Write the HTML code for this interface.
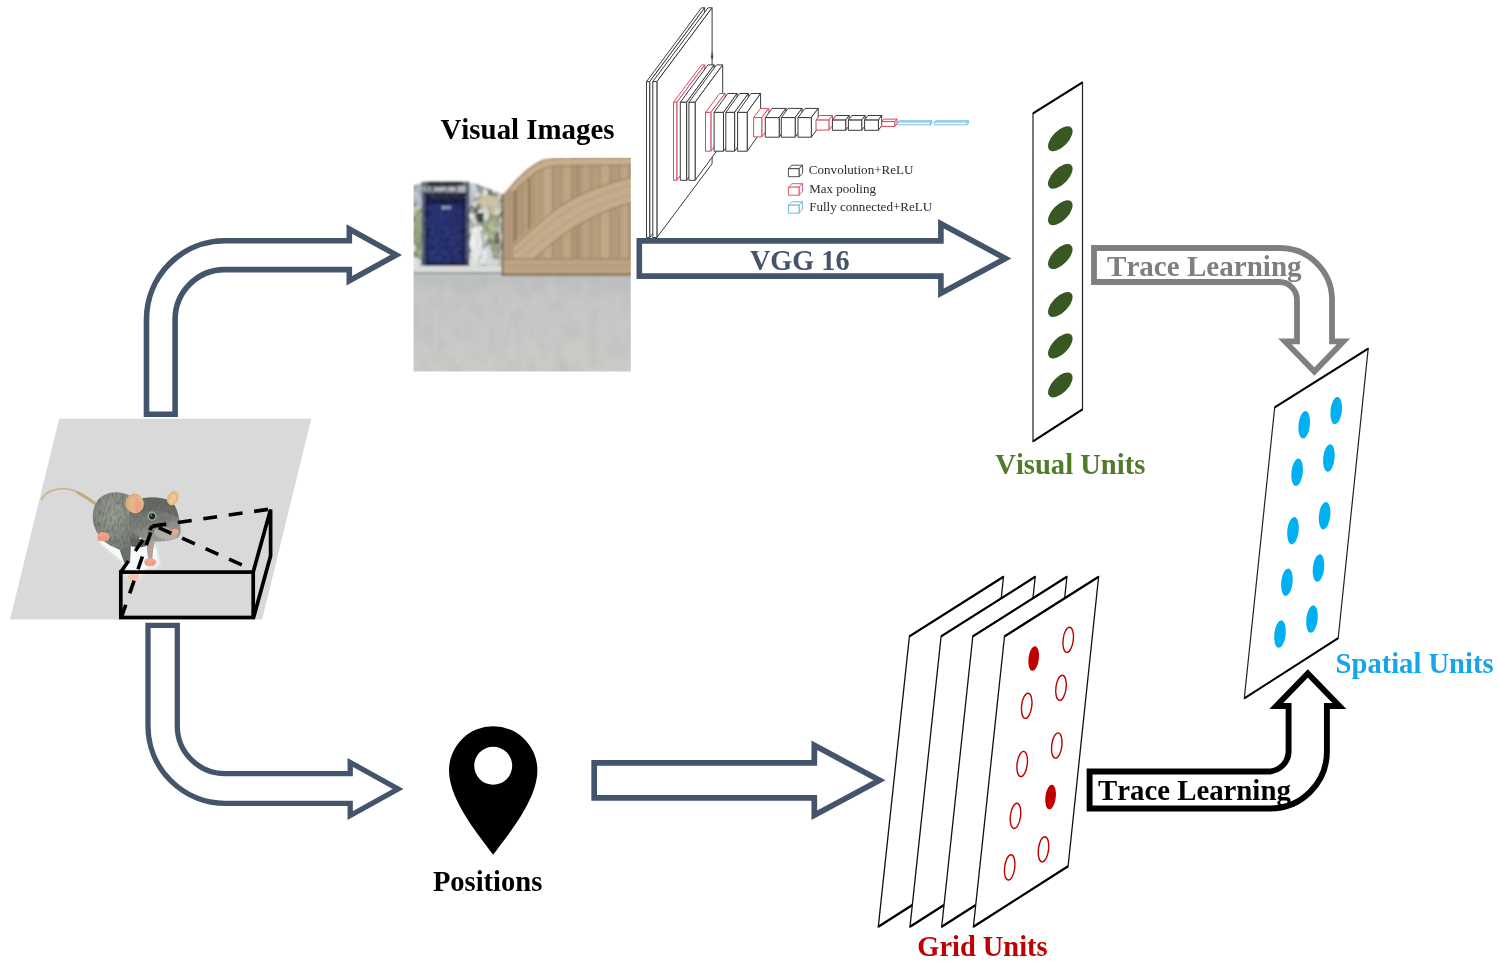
<!DOCTYPE html>
<html lang="en">
<head>
<meta charset="utf-8">
<title>Model overview</title>
<style>
html,body{margin:0;padding:0;background:#fff;}
body{width:1499px;height:962px;overflow:hidden;font-family:"Liberation Serif",serif;}
svg{display:block;}
</style>
</head>
<body>
<svg width="1499" height="962" viewBox="0 0 1499 962">
<rect width="1499" height="962" fill="#fff"/>
<path d="M146.5 414.3 L146.5 319.5 A78.3 78.8 0 0 1 224.8 240.7 L349.3 240.7 L349.3 229 L396.2 254.9 L349.3 280.8 L349.3 269.6 L224.8 269.6 A49.7 49.9 0 0 0 175.1 319.5 L175.1 414.3 Z" fill="#fff" stroke="#44546A" stroke-width="5.6" stroke-miterlimit="10"/>
<path d="M148 625.3 L177.3 625.3 L177.3 726 A47.8 47.6 0 0 0 225.1 773.6 L350.2 773.6 L350.2 762.5 L398 789 L350.2 815.5 L350.2 803.4 L225.4 803.4 A77.4 77.4 0 0 1 148 726 Z" fill="#fff" stroke="#44546A" stroke-width="5.3" stroke-miterlimit="10"/>
<path d="M594.2 762.8 L814.3 762.8 L814.3 745.3 L879.5 780.3 L814.3 815.3 L814.3 797.9 L594.2 797.9 Z" fill="#fff" stroke="#44546A" stroke-width="5.7" stroke-miterlimit="10"/>
<defs><filter id="soft" x="-5%" y="-5%" width="110%" height="110%"><feGaussianBlur stdDeviation="0.42"/></filter></defs>
<g fill="#fff" stroke-linejoin="round" filter="url(#soft)">
<g stroke="#3a3a3a" stroke-width="1.0"><polygon points="646.5,81.6 701.5,7.799999999999997 704.7,7.799999999999997 649.7,81.6"/><polygon points="649.7,81.6 704.7,7.799999999999997 704.7,163.7 649.7,237.5"/><polygon points="646.5,81.6 649.7,81.6 649.7,237.5 646.5,237.5"/></g>
<g stroke="#3a3a3a" stroke-width="1.0"><polygon points="652.8,81.6 708.0,7.799999999999997 712.1,7.799999999999997 656.9,81.6"/><polygon points="656.9,81.6 712.1,7.799999999999997 712.1,163.7 656.9,237.5"/><polygon points="652.8,81.6 656.9,81.6 656.9,237.5 652.8,237.5"/></g>
<g stroke="#D8485F" stroke-width="1.0"><polygon points="673.5,102.3 701.5,64.9 704.8,64.9 676.8,102.3"/><polygon points="676.8,102.3 704.8,64.9 704.8,142.9 676.8,180.3"/><polygon points="673.5,102.3 676.8,102.3 676.8,180.3 673.5,180.3"/></g>
<g stroke="#3a3a3a" stroke-width="1.0"><polygon points="680.3,102.3 707.9,64.9 714.2,64.9 686.6,102.3"/><polygon points="686.6,102.3 714.2,64.9 714.2,142.9 686.6,180.3"/><polygon points="680.3,102.3 686.6,102.3 686.6,180.3 680.3,180.3"/></g>
<g stroke="#3a3a3a" stroke-width="1.0"><polygon points="688.9,102.3 716.5,64.9 722.7,64.9 695.1,102.3"/><polygon points="695.1,102.3 722.7,64.9 722.7,142.9 695.1,180.3"/><polygon points="688.9,102.3 695.1,102.3 695.1,180.3 688.9,180.3"/></g>
<g stroke="#D8485F" stroke-width="1.0"><polygon points="705.5,112.4 719.7,93.5 725.1,93.5 710.9,112.4"/><polygon points="710.9,112.4 725.1,93.5 725.1,132.29999999999998 710.9,151.2"/><polygon points="705.5,112.4 710.9,112.4 710.9,151.2 705.5,151.2"/></g>
<g stroke="#3a3a3a" stroke-width="1.0"><polygon points="714.1,112.4 727.7,93.5 737.1,93.5 723.5,112.4"/><polygon points="723.5,112.4 737.1,93.5 737.1,132.29999999999998 723.5,151.2"/><polygon points="714.1,112.4 723.5,112.4 723.5,151.2 714.1,151.2"/></g>
<g stroke="#3a3a3a" stroke-width="1.0"><polygon points="725.8,112.4 739.5999999999999,93.5 748.4,93.5 734.6,112.4"/><polygon points="734.6,112.4 748.4,93.5 748.4,132.29999999999998 734.6,151.2"/><polygon points="725.8,112.4 734.6,112.4 734.6,151.2 725.8,151.2"/></g>
<g stroke="#3a3a3a" stroke-width="1.0"><polygon points="737.6,112.4 751.0,93.5 760.6,93.5 747.2,112.4"/><polygon points="747.2,112.4 760.6,93.5 760.6,132.29999999999998 747.2,151.2"/><polygon points="737.6,112.4 747.2,112.4 747.2,151.2 737.6,151.2"/></g>
<g stroke="#D8485F" stroke-width="1.0"><polygon points="753.6,117.6 760.6,108.39999999999999 768.8,108.39999999999999 761.8,117.6"/><polygon points="761.8,117.6 768.8,108.39999999999999 768.8,127.7 761.8,136.9"/><polygon points="753.6,117.6 761.8,117.6 761.8,136.9 753.6,136.9"/></g>
<g stroke="#3a3a3a" stroke-width="1.0"><polygon points="765.3,117.6 772.0999999999999,108.39999999999999 786.0,108.39999999999999 779.2,117.6"/><polygon points="779.2,117.6 786.0,108.39999999999999 786.0,127.99999999999999 779.2,137.2"/><polygon points="765.3,117.6 779.2,117.6 779.2,137.2 765.3,137.2"/></g>
<g stroke="#3a3a3a" stroke-width="1.0"><polygon points="781.3,117.6 788.0999999999999,108.39999999999999 802.0,108.39999999999999 795.2,117.6"/><polygon points="795.2,117.6 802.0,108.39999999999999 802.0,127.99999999999999 795.2,137.2"/><polygon points="781.3,117.6 795.2,117.6 795.2,137.2 781.3,137.2"/></g>
<g stroke="#3a3a3a" stroke-width="1.0"><polygon points="798,117.6 804.9,108.39999999999999 818.1999999999999,108.39999999999999 811.3,117.6"/><polygon points="811.3,117.6 818.1999999999999,108.39999999999999 818.1999999999999,127.99999999999999 811.3,137.2"/><polygon points="798,117.6 811.3,117.6 811.3,137.2 798,137.2"/></g>
<g stroke="#D8485F" stroke-width="1.0"><polygon points="816,120.1 819.6,115.5 832.5,115.5 828.9,120.1"/><polygon points="828.9,120.1 832.5,115.5 832.5,125.5 828.9,130.1"/><polygon points="816,120.1 828.9,120.1 828.9,130.1 816,130.1"/></g>
<g stroke="#3a3a3a" stroke-width="1.0"><polygon points="832.4,120.1 835.8,115.5 849.1,115.5 845.7,120.1"/><polygon points="845.7,120.1 849.1,115.5 849.1,125.70000000000002 845.7,130.3"/><polygon points="832.4,120.1 845.7,120.1 845.7,130.3 832.4,130.3"/></g>
<g stroke="#3a3a3a" stroke-width="1.0"><polygon points="848.4,120.1 851.8,115.5 865.1,115.5 861.7,120.1"/><polygon points="861.7,120.1 865.1,115.5 865.1,125.70000000000002 861.7,130.3"/><polygon points="848.4,120.1 861.7,120.1 861.7,130.3 848.4,130.3"/></g>
<g stroke="#3a3a3a" stroke-width="1.0"><polygon points="864.6,120.1 867.9,115.5 881.6999999999999,115.5 878.4,120.1"/><polygon points="878.4,120.1 881.6999999999999,115.5 881.6999999999999,125.70000000000002 878.4,130.3"/><polygon points="864.6,120.1 878.4,120.1 878.4,130.3 864.6,130.3"/></g>
<g stroke="#D8485F" stroke-width="1.0"><polygon points="881.8,121.6 884.0,119.1 897.0,119.1 894.8,121.6"/><polygon points="894.8,121.6 897.0,119.1 897.0,123.9 894.8,126.4"/><polygon points="881.8,121.6 894.8,121.6 894.8,126.4 881.8,126.4"/></g>
<g stroke="#62B4D2" stroke-width="0.8"><polygon points="897.8,122.1 899.4,120.69999999999999 932.0,120.69999999999999 930.4,122.1"/><polygon points="930.4,122.1 932.0,120.69999999999999 932.0,123.39999999999999 930.4,124.8"/><polygon points="897.8,122.1 930.4,122.1 930.4,124.8 897.8,124.8"/></g>
<g stroke="#62B4D2" stroke-width="0.8"><polygon points="934.3,122.1 935.9,120.69999999999999 968.4,120.69999999999999 966.8,122.1"/><polygon points="966.8,122.1 968.4,120.69999999999999 968.4,123.39999999999999 966.8,124.8"/><polygon points="934.3,122.1 966.8,122.1 966.8,124.8 934.3,124.8"/></g>
<path d="M712.1 52 L712.1 58.5 M711 55.5 L712.1 58.5 L713.2 55.5" stroke="#3a3a3a" stroke-width="0.9" fill="none"/>
<g stroke="#3a3a3a" stroke-width="0.9"><polygon points="788.4,168.7 792.0,165.2 802.6,165.2 799,168.7"/><polygon points="799,168.7 802.6,165.2 802.6,173.2 799,176.7"/><polygon points="788.4,168.7 799,168.7 799,176.7 788.4,176.7"/></g>
<g stroke="#D8485F" stroke-width="0.9"><polygon points="788.4,187.2 792.0,183.7 802.6,183.7 799,187.2"/><polygon points="799,187.2 802.6,183.7 802.6,191.7 799,195.2"/><polygon points="788.4,187.2 799,187.2 799,195.2 788.4,195.2"/></g>
<g stroke="#62B4D2" stroke-width="0.9"><polygon points="788.4,205.2 792.0,201.7 802.6,201.7 799,205.2"/><polygon points="799,205.2 802.6,201.7 802.6,209.7 799,213.2"/><polygon points="788.4,205.2 799,205.2 799,213.2 788.4,213.2"/></g>
</g>
<g filter="url(#soft)"><g font-family="'Liberation Serif', serif" font-size="13.1" fill="#2b2b2b"><text x="808.8" y="174.3" textLength="104.7" lengthAdjust="spacingAndGlyphs">Convolution+ReLU</text><text x="809.2" y="193.4" textLength="66.8" lengthAdjust="spacingAndGlyphs">Max pooling</text><text x="809.2" y="211.3" textLength="123" lengthAdjust="spacingAndGlyphs">Fully connected+ReLU</text></g></g>
<defs>
<clipPath id="imgclip"><rect x="413.6" y="157.8" width="217.19999999999993" height="213.8"/></clipPath>
<filter id="imgblur" x="-2%" y="-2%" width="104%" height="104%"><feGaussianBlur stdDeviation="0.8"/></filter>
<filter id="stone" color-interpolation-filters="sRGB" x="0" y="0" width="100%" height="100%">
<feTurbulence type="fractalNoise" baseFrequency="0.17 0.15" numOctaves="3" seed="11" result="n"/>
<feColorMatrix in="n" type="matrix" values="0.75 0.75 0.3 0 -0.22  0.75 0.78 0.3 0 -0.22  0.7 0.72 0.32 0 -0.2  0 0 0 0 1" result="c"/>
<feComposite in="c" in2="SourceGraphic" operator="in"/>
</filter>
<filter id="mottle" color-interpolation-filters="sRGB" x="0" y="0" width="100%" height="100%">
<feTurbulence type="fractalNoise" baseFrequency="0.2 0.18" numOctaves="2" seed="5" result="n"/>
<feColorMatrix in="n" type="matrix" values="0 0 0 0 0  0 0 0 0 0  0 0 0 0 0.03  2.2 2.2 0 0 -1.9" result="c"/>
<feComposite in="c" in2="SourceGraphic" operator="in"/>
</filter>
<filter id="grain" color-interpolation-filters="sRGB" x="0" y="0" width="100%" height="100%">
<feTurbulence type="fractalNoise" baseFrequency="0.09 0.05" numOctaves="2" seed="3" result="n"/>
<feColorMatrix in="n" type="matrix" values="0 0 0 0 0.5  0 0 0 0 0.5  0 0 0 0 0.5  0.5 0.5 0 0 -0.42" result="c"/>
<feComposite in="c" in2="SourceGraphic" operator="in"/>
</filter>
<linearGradient id="floorg" x1="0" y1="0" x2="0" y2="1"><stop offset="0" stop-color="#BDBFC0"/><stop offset="0.25" stop-color="#C6C7C6"/><stop offset="1" stop-color="#CBCBC8"/></linearGradient>
<linearGradient id="doorg" x1="0" y1="0" x2="1" y2="0"><stop offset="0" stop-color="#20264F"/><stop offset="0.14" stop-color="#2C3778"/><stop offset="0.85" stop-color="#2B3573"/><stop offset="1" stop-color="#1D2246"/></linearGradient>
<linearGradient id="gateg" x1="0" y1="0" x2="1" y2="0"><stop offset="0" stop-color="#AC9373"/><stop offset="0.1" stop-color="#B69D7D"/><stop offset="1" stop-color="#BBA383"/></linearGradient>
</defs>
<g clip-path="url(#imgclip)"><g filter="url(#imgblur)">
<rect x="410.6" y="154.8" width="223.19999999999993" height="60" fill="#FFFFFF"/>
<rect x="410.6" y="272" width="223.19999999999993" height="103.60000000000002" fill="url(#floorg)"/>
<rect x="410.6" y="276" width="223.19999999999993" height="99.60000000000002" fill="#fff" filter="url(#grain)" opacity="0.35"/>
<path d="M410.6 186 L428 181.6 L462.6 181.4 L478 184.5 L502.5 194 L504 276 L410.6 276 Z" fill="#A3A596"/>
<path d="M410.6 186 L428 181.6 L462.6 181.4 L478 184.5 L502.5 194 L504 276 L410.6 276 Z" fill="#fff" filter="url(#stone)" opacity="0.92"/>
<ellipse cx="418" cy="197" rx="5" ry="10" fill="#B9C3D8" opacity="0.75"/>
<ellipse cx="418" cy="230" rx="4.6" ry="22" fill="#8AA06C" opacity="0.7"/>
<ellipse cx="419" cy="252" rx="4" ry="9" fill="#758C5A" opacity="0.6"/>
<ellipse cx="417" cy="262" rx="4" ry="4" fill="#E4E6E2" opacity="0.8"/>
<ellipse cx="472" cy="192" rx="6" ry="8" fill="#CBD4E2" opacity="0.75"/>
<ellipse cx="489" cy="201" rx="11" ry="6.5" fill="#CFC29F" opacity="0.8"/>
<ellipse cx="495" cy="211" rx="6" ry="5" fill="#D8CDAC" opacity="0.7"/>
<ellipse cx="491" cy="226" rx="8" ry="13" fill="#9DAA78" opacity="0.6"/>
<ellipse cx="495" cy="250" rx="5" ry="11" fill="#84976A" opacity="0.55"/>
<ellipse cx="497" cy="238" rx="3" ry="6" fill="#6B5348" opacity="0.75"/>
<ellipse cx="485" cy="215" rx="4" ry="5" fill="#E6E8E0" opacity="0.7"/>
<ellipse cx="476" cy="243" rx="6" ry="17" fill="#EEF2F5" opacity="0.85"/>
<ellipse cx="486" cy="255" rx="7" ry="9" fill="#E4EBF0" opacity="0.7"/>
<ellipse cx="473" cy="262" rx="12" ry="4" fill="#E8EAEA" opacity="0.85"/>
<ellipse cx="492" cy="262" rx="8" ry="4" fill="#D8DAD6" opacity="0.8"/>
<rect x="421.5" y="181.6" width="48" height="17.5" fill="#6C707C"/>
<rect x="428" y="181.6" width="35" height="5" fill="#3B3E48"/>
<rect x="434" y="187" width="22" height="4.5" fill="#B4B8C2"/>
<rect x="457" y="186" width="9" height="6" fill="#C4C9D2" opacity=".8"/>
<rect x="423" y="186.5" width="8" height="5" fill="#B9BEC9" opacity=".7"/>
<rect x="424" y="193.2" width="43" height="5.4" fill="#2B3047"/>
<rect x="421.8" y="196" width="4" height="70" fill="#59617F"/>
<rect x="465" y="196" width="4.2" height="70" fill="#535B78"/>
<rect x="425.2" y="198.4" width="40.2" height="67.4" fill="url(#doorg)"/>
<rect x="425.2" y="198.4" width="40.2" height="6" fill="#1A1F40" opacity=".85"/>
<rect x="441.5" y="205.8" width="9.5" height="3.6" fill="#8F98B4"/>
<rect x="425.2" y="262" width="40.2" height="4" fill="#232A55"/>
<rect x="421.5" y="181.6" width="48" height="85" fill="#000" filter="url(#mottle)" opacity=".22"/>
<rect x="477" y="213" width="6.5" height="9" fill="#3C4646"/>
<path d="M470 208 q4 -3 6 2 l0 8" stroke="#3a4040" stroke-width="1.2" fill="none"/>
<rect x="410.6" y="265.8" width="94" height="7.4" fill="#DADDDA"/>
<rect x="410.6" y="272.4" width="94" height="2" fill="#878C8C"/>
<rect x="410.6" y="274.2" width="94" height="2" fill="#C2C6C8"/>
<path d="M503 276 L503 194.5 C514 182 527 166 543 159.6 C550 157 560 156.5 640 156.5 L640 276 Z" fill="url(#gateg)"/>
<clipPath id="gclip"><path d="M503 276 L503 194.5 C514 182 527 166 543 159.6 C550 157 560 156.5 640 156.5 L640 276 Z"/></clipPath><g clip-path="url(#gclip)">
<rect x="513.5" y="150" width="9.6" height="110" fill="#B09777"/>
<rect x="513.5" y="150" width="1.1" height="110" fill="#94795A" opacity=".55"/>
<rect x="523.1" y="150" width="9.6" height="110" fill="#BAA181"/>
<rect x="523.1" y="150" width="1.1" height="110" fill="#94795A" opacity=".55"/>
<rect x="532.7" y="150" width="9.6" height="110" fill="#B59C7C"/>
<rect x="532.7" y="150" width="1.1" height="110" fill="#94795A" opacity=".55"/>
<rect x="542.3" y="150" width="9.6" height="110" fill="#C0A888"/>
<rect x="542.3" y="150" width="1.1" height="110" fill="#94795A" opacity=".55"/>
<rect x="551.9" y="150" width="9.6" height="110" fill="#B39A7A"/>
<rect x="551.9" y="150" width="1.1" height="110" fill="#94795A" opacity=".55"/>
<rect x="561.5" y="150" width="9.6" height="110" fill="#BCA484"/>
<rect x="561.5" y="150" width="1.1" height="110" fill="#94795A" opacity=".55"/>
<rect x="571.1" y="150" width="9.6" height="110" fill="#B09777"/>
<rect x="571.1" y="150" width="1.1" height="110" fill="#94795A" opacity=".55"/>
<rect x="580.7" y="150" width="9.6" height="110" fill="#BAA181"/>
<rect x="580.7" y="150" width="1.1" height="110" fill="#94795A" opacity=".55"/>
<rect x="590.3" y="150" width="9.6" height="110" fill="#B59C7C"/>
<rect x="590.3" y="150" width="1.1" height="110" fill="#94795A" opacity=".55"/>
<rect x="599.9" y="150" width="9.6" height="110" fill="#C0A888"/>
<rect x="599.9" y="150" width="1.1" height="110" fill="#94795A" opacity=".55"/>
<rect x="609.5" y="150" width="9.6" height="110" fill="#B39A7A"/>
<rect x="609.5" y="150" width="1.1" height="110" fill="#94795A" opacity=".55"/>
<rect x="619.1" y="150" width="9.6" height="110" fill="#BCA484"/>
<rect x="619.1" y="150" width="1.1" height="110" fill="#94795A" opacity=".55"/>
<rect x="628.7" y="150" width="9.6" height="110" fill="#B09777"/>
<rect x="628.7" y="150" width="1.1" height="110" fill="#94795A" opacity=".55"/>
<rect x="638.3" y="150" width="9.6" height="110" fill="#BAA181"/>
<rect x="638.3" y="150" width="1.1" height="110" fill="#94795A" opacity=".55"/>
<rect x="513" y="190" width="3.6" height="66" fill="#8F7657" opacity=".8"/>
<rect x="527.5" y="178" width="3.4" height="56" fill="#92795A" opacity=".8"/>
<rect x="576" y="160" width="2.8" height="98" fill="#A38A69" opacity=".7"/>
<path d="M503 199 C515 186 528 170.5 544 164.2 C551 161.6 562 161.2 640 161.2" stroke="#C6AE8E" stroke-width="5.5" fill="none"/>
<path d="M503 203.4 C515 190.4 529 174.4 545 168.2 C552 165.8 562 165.4 640 165.4" stroke="#9F8564" stroke-width="1.3" fill="none" opacity=".85"/>
<path d="M503 195.4 C514 183 527 167 543 160.6" stroke="#8F7758" stroke-width="1.2" fill="none" opacity=".8"/>
<path d="M514 259 C530 246 545 230 566 217 C588 203 610 195 640 187" stroke="#C4AC8C" stroke-width="25" fill="none"/>
<path d="M506 252 C524 238 540 220 560 206.5 C584 191 608 183 640 175" stroke="#9A8060" stroke-width="1.4" fill="none" opacity=".85"/>
<path d="M524 268 C540 254 554 240 574 227.5 C596 214 616 207 640 200" stroke="#9A8060" stroke-width="1.4" fill="none" opacity=".85"/>
<path d="M511 256 C528 243 543 226 564 213 C586 199 610 191 640 183" stroke="#B09777" stroke-width="1.2" fill="none" opacity=".8"/>
<path d="M517 262 C533 249 548 234 569 221 C591 207 612 199.5 640 192" stroke="#B39A7A" stroke-width="1.2" fill="none" opacity=".8"/>
<rect x="503" y="190" width="10.5" height="86" fill="#B0977A"/>
<rect x="503" y="258.5" width="140" height="17" fill="#BDA383"/>
<rect x="503" y="258.2" width="140" height="1.4" fill="#987E5E" opacity=".8"/>
<rect x="503" y="265" width="140" height="1.1" fill="#A98F6F" opacity=".7"/>
<rect x="503" y="273.4" width="140" height="2.8" fill="#8C7455"/>
</g>
<rect x="501.6" y="194" width="2" height="82" fill="#6E6250" opacity=".8"/>
</g></g>
<path d="M639.3 240.9 L940.9 240.9 L940.9 223.7 L1005.5 258.5 L940.9 293.3 L940.9 276.1 L639.3 276.1 Z" fill="#fff" stroke="#44546A" stroke-width="5.6" stroke-miterlimit="10"/>
<defs>
<filter id="mblur" x="-5%" y="-5%" width="110%" height="110%"><feGaussianBlur stdDeviation="0.75"/></filter>
<filter id="mblur2" x="-10%" y="-10%" width="120%" height="120%"><feGaussianBlur stdDeviation="1.4"/></filter>
<filter id="fur" color-interpolation-filters="sRGB" x="0" y="0" width="100%" height="100%">
<feTurbulence type="fractalNoise" baseFrequency="0.5 0.18" numOctaves="2" seed="2" result="n"/>
<feColorMatrix in="n" type="matrix" values="0 0 0 0 0.2  0 0 0 0 0.2  0 0 0 0 0.18  1.6 1.6 0 0 -1.35" result="c"/>
<feComposite in="c" in2="SourceGraphic" operator="in"/>
</filter>
<radialGradient id="bodyg" cx="0.42" cy="0.3" r="0.75"><stop offset="0" stop-color="#9CA198"/><stop offset="0.55" stop-color="#81867E"/><stop offset="1" stop-color="#646962"/></radialGradient>
<linearGradient id="headg" x1="0.3" y1="0" x2="0.6" y2="1"><stop offset="0" stop-color="#6B6F69"/><stop offset="0.55" stop-color="#7C8079"/><stop offset="1" stop-color="#A3A49B"/></linearGradient>
<radialGradient id="earg" cx="0.6" cy="0.6" r="0.65"><stop offset="0" stop-color="#EDA98A"/><stop offset="0.55" stop-color="#E5B987"/><stop offset="1" stop-color="#D3AA78"/></radialGradient>
</defs>
<polygon points="59.2,418.8 311.2,418.8 262.2,619.4 10,619.4" fill="#D9D9D9"/>
<g filter="url(#mblur)">
<path d="M97 540 L108 541 L131 541 L156 545 L160 563 L156 568 L146 569 L138 580 L128 578 L121 561 L108 550 Z" fill="#EDF4F4" filter="url(#mblur2)"/>
<path d="M99.5 541.5 L110 543 L131 545 L150 545 L156 549 L157 565 L147 567 L139 574 L131 575 L123 561 L110 551 Z" fill="#F5FAFA"/>
<path d="M41.6 499.6 C45 492 55 488.3 64 488.6 C76 489 86 497 95 503.5" stroke="#CDB38E" stroke-width="1.9" fill="none" stroke-linecap="round"/>
<path d="M78 492.6 C85 496 90 500 97 505" stroke="#C4A883" stroke-width="2.9" fill="none" stroke-linecap="round"/>
<path d="M96 503 C99 496.5 107 492.4 116 492.3 C125 492.3 132 496 137 502 C143 512 144 528 138 541 C135 546 132 547 130.7 545 L130 562.5 L124.3 562.5 C122 557 121 553 119.5 549.5 C113 547 107 544 103 540.5 C96 533 92.4 524 92.8 516 C93 511 94 507 96 503 Z" fill="url(#bodyg)"/>
<path d="M96 503 C99 496.5 107 492.4 116 492.3 C125 492.3 132 496 137 502 C143 512 144 528 138 541 C135 546 132 547 130.7 545 L130 562.5 L124.3 562.5 C122 557 121 553 119.5 549.5 C113 547 107 544 103 540.5 C96 533 92.4 524 92.8 516 C93 511 94 507 96 503 Z" fill="#000" filter="url(#fur)" opacity=".35"/>
<path d="M121.5 549 C122.5 554 123.5 559 124.6 563 L129.8 563 L130.6 546 Z" fill="#6C7069" opacity=".85"/>
<path d="M97.2 537 C97.6 532.4 102 531.2 106 532.6 C109.6 533.6 110.6 537 108.4 539.6 C106 542 103 541.4 101.6 540.6 C99.6 542.4 96.6 541 97.2 537 Z" fill="#EFA28B"/>
<path d="M99 540.5 L100.4 536 M102.2 541 L103.4 536.4 M105.6 540.4 L106 536.4" stroke="#D98470" stroke-width=".7" fill="none"/>
<path d="M130 538 L147 540 L146.5 546 C141 548 135 547.5 130.6 546 Z" fill="#5F635D"/>
<path d="M146.4 540 C146.6 548 147.6 555 148.6 560 L152.4 560 C152.6 553 153.6 546 155 540.4 Z" fill="#B3A096"/>
<path d="M130.5 507 C132 500.5 140 497.6 150 497.4 C160 497.2 168 498.4 173 503 C177.5 508 180 520 180.6 529 C181 534 179.5 537.4 176 538.6 C170 541.2 162 541.8 155 541.4 C147 541 139 538.6 134.5 533 C130 527 129 515 130.5 507 Z" fill="url(#headg)"/>
<path d="M136 500 C144 496.6 162 496.4 172 502 C176 507 177.5 513 178 518 C168 510 150 508 134 514 Z" fill="#5F635E" opacity=".55"/>
<path d="M130.5 507 C132 500.5 140 497.6 150 497.4 C160 497.2 168 498.4 173 503 C177.5 508 180 520 180.6 529 C181 534 179.5 537.4 176 538.6 C170 541.2 162 541.8 155 541.4 C147 541 139 538.6 134.5 533 C130 527 129 515 130.5 507 Z" fill="#000" filter="url(#fur)" opacity=".22"/>
<ellipse cx="166" cy="533.5" rx="12" ry="6" fill="#B4B4AA" opacity=".8" transform="rotate(8 166 533.5)"/>
<ellipse cx="173.5" cy="526.5" rx="5.5" ry="5" fill="#8F9189" opacity=".75"/>
<path d="M144.2 561 C146 557.6 153 557.4 156.2 560.4 C157.2 564 154 567 150.6 566 C147.4 567.6 143.6 565 144.2 561 Z" fill="#F1A892"/>
<path d="M146.4 565.4 L147.6 561 M150 566.2 L150.4 561.4 M153.4 565.2 L152.8 561" stroke="#DA8B77" stroke-width=".7" fill="none"/>
<path d="M128 576 C129.6 572.4 136 572 139 574.6 C140.6 578.6 137 582 133.4 581 C130 581.8 127.4 579.4 128 576 Z" fill="#F4C3B2"/>
<ellipse cx="134.6" cy="503.4" rx="9.2" ry="9.9" transform="rotate(-12 134.6 503.4)" fill="url(#earg)"/>
<path d="M136 498 C140 499 142 503 141 507.5 C140 511 137.6 513 136 512.6 C134.6 508 134.6 502 136 498 Z" fill="#EB9F84" opacity=".8"/>
<ellipse cx="172.9" cy="498.1" rx="5.6" ry="7.5" transform="rotate(24 172.9 498.1)" fill="#E2BB88"/>
<ellipse cx="172.6" cy="499" rx="2.7" ry="5" transform="rotate(24 172.6 499)" fill="#EBC896"/>
<circle cx="152" cy="516.2" r="4.6" fill="#9EA69F"/>
<circle cx="152.1" cy="516.3" r="3.1" fill="#1F2D2C"/>
<circle cx="151.2" cy="515.3" r="0.8" fill="#9fb3b3"/>
<ellipse cx="174.8" cy="532" rx="3.6" ry="3.2" fill="#EBA595"/>
</g>
<g stroke="#000" stroke-width="3.7" fill="none" stroke-linejoin="miter" stroke-linecap="butt">
<rect x="120.8" y="572.1" width="132.4" height="45.4"/>
<path d="M253.2 572.1 L270.6 509.6 L270.6 555.8 L253.6 617.5"/>
</g>
<g stroke="#000" stroke-width="3.6" fill="none" stroke-dasharray="14 11.7">
<path d="M152.4 526.1 L270.6 509"/>
<path d="M241.8 564.8 L152.4 524.8"/>
<path d="M120.8 572.1 L152.4 526.1" stroke-dasharray="13.5 12"/>
<path d="M121.4 617.5 L152.9 526" stroke-dasharray="13.5 12"/>
</g>
<g fill="none" stroke-linejoin="miter">
<polygon points="1033,113.4 1082.5,82.4 1082.5,409.4 1033,441.4" fill="#fff" stroke="#222" stroke-width="1.2"/>
<path d="M1033 113.4 L1082.5 82.4 M1082.5 409.4 L1033 441.4" stroke="#000" stroke-width="2"/>
</g>
<ellipse cx="1060.3" cy="138.8" rx="15.6" ry="7.9" transform="rotate(-45.8 1060.3 138.8)" fill="#385723"/>
<ellipse cx="1060.3" cy="176.2" rx="15.6" ry="7.9" transform="rotate(-45.8 1060.3 176.2)" fill="#385723"/>
<ellipse cx="1060.3" cy="212.8" rx="15.6" ry="7.9" transform="rotate(-45.8 1060.3 212.8)" fill="#385723"/>
<ellipse cx="1060.3" cy="256.6" rx="15.6" ry="7.9" transform="rotate(-45.8 1060.3 256.6)" fill="#385723"/>
<ellipse cx="1060.3" cy="304.5" rx="15.6" ry="7.9" transform="rotate(-45.8 1060.3 304.5)" fill="#385723"/>
<ellipse cx="1060.3" cy="346" rx="15.6" ry="7.9" transform="rotate(-45.8 1060.3 346)" fill="#385723"/>
<ellipse cx="1060.3" cy="384.9" rx="15.6" ry="7.9" transform="rotate(-45.8 1060.3 384.9)" fill="#385723"/>
<path d="M1094 248 L1280 248 A52 52 0 0 1 1332 300 L1332 341.4 L1343.4 341.4 L1314.4 371.6 L1285 341.4 L1297 341.4 L1297 300 A17.5 18 0 0 0 1279.5 282 L1094 282 Z" fill="#fff" stroke="#7F7F7F" stroke-width="5.8" stroke-miterlimit="10"/>
<polygon points="1274.7,407.4 1368.2,348.6 1338.2,638.2 1244.3,698.4" fill="#fff" stroke="#222" stroke-width="1.2"/>
<path d="M1274.7 407.4 L1368.2 348.6 M1338.2 638.2 L1244.3 698.4" stroke="#000" stroke-width="2" fill="none"/>
<ellipse cx="1304.2" cy="424.8" rx="5.7" ry="13.8" transform="rotate(6 1304.2 424.8)" fill="#00B0F0"/>
<ellipse cx="1336.2" cy="410.6" rx="5.7" ry="13.8" transform="rotate(6 1336.2 410.6)" fill="#00B0F0"/>
<ellipse cx="1297.1" cy="472.3" rx="5.7" ry="13.8" transform="rotate(6 1297.1 472.3)" fill="#00B0F0"/>
<ellipse cx="1328.9" cy="458" rx="5.7" ry="13.8" transform="rotate(6 1328.9 458)" fill="#00B0F0"/>
<ellipse cx="1293" cy="530.7" rx="5.7" ry="13.8" transform="rotate(6 1293 530.7)" fill="#00B0F0"/>
<ellipse cx="1324.6" cy="515.7" rx="5.7" ry="13.8" transform="rotate(6 1324.6 515.7)" fill="#00B0F0"/>
<ellipse cx="1286.9" cy="582.2" rx="5.7" ry="13.8" transform="rotate(6 1286.9 582.2)" fill="#00B0F0"/>
<ellipse cx="1318.5" cy="568" rx="5.7" ry="13.8" transform="rotate(6 1318.5 568)" fill="#00B0F0"/>
<ellipse cx="1280" cy="634.1" rx="5.7" ry="13.8" transform="rotate(6 1280 634.1)" fill="#00B0F0"/>
<ellipse cx="1312" cy="619.1" rx="5.7" ry="13.8" transform="rotate(6 1312 619.1)" fill="#00B0F0"/>
<polygon points="909.4,636.4 1003.5,576.8 973.0,866.2 878.3,926.8" fill="#fff" stroke="#111" stroke-width="1.3"/>
<path d="M909.4 636.4 L1003.5 576.8 M973.0 866.2 L878.3 926.8" stroke="#000" stroke-width="2.2" fill="none"/>
<polygon points="941.1,636.4 1035.2,576.8 1004.7,866.2 910.0,926.8" fill="#fff" stroke="#111" stroke-width="1.3"/>
<path d="M941.1 636.4 L1035.2 576.8 M1004.7 866.2 L910.0 926.8" stroke="#000" stroke-width="2.2" fill="none"/>
<polygon points="972.8,636.4 1066.9,576.8 1036.4,866.2 941.7,926.8" fill="#fff" stroke="#111" stroke-width="1.3"/>
<path d="M972.8 636.4 L1066.9 576.8 M1036.4 866.2 L941.7 926.8" stroke="#000" stroke-width="2.2" fill="none"/>
<polygon points="1004.5,636.4 1098.6,576.8 1068.1,866.2 973.4,926.8" fill="#fff" stroke="#111" stroke-width="1.3"/>
<path d="M1004.5 636.4 L1098.6 576.8 M1068.1 866.2 L973.4 926.8" stroke="#000" stroke-width="2.2" fill="none"/>
<ellipse cx="1033.7" cy="658.5" rx="5.2" ry="12.4" transform="rotate(7 1033.7 658.5)" fill="#C00000"/>
<ellipse cx="1068.2" cy="639.8" rx="5.1" ry="12.7" transform="rotate(7 1068.2 639.8)" fill="#fff" stroke="#C00000" stroke-width="1.4"/>
<ellipse cx="1026.7" cy="705.8" rx="5.1" ry="12.7" transform="rotate(7 1026.7 705.8)" fill="#fff" stroke="#C00000" stroke-width="1.4"/>
<ellipse cx="1061" cy="687.8" rx="5.1" ry="12.7" transform="rotate(7 1061 687.8)" fill="#fff" stroke="#C00000" stroke-width="1.4"/>
<ellipse cx="1022.2" cy="764" rx="5.1" ry="12.7" transform="rotate(7 1022.2 764)" fill="#fff" stroke="#C00000" stroke-width="1.4"/>
<ellipse cx="1056.8" cy="745.5" rx="5.1" ry="12.7" transform="rotate(7 1056.8 745.5)" fill="#fff" stroke="#C00000" stroke-width="1.4"/>
<ellipse cx="1015.5" cy="815.9" rx="5.1" ry="12.7" transform="rotate(7 1015.5 815.9)" fill="#fff" stroke="#C00000" stroke-width="1.4"/>
<ellipse cx="1050.6" cy="797" rx="5.2" ry="12.4" transform="rotate(7 1050.6 797)" fill="#C00000"/>
<ellipse cx="1009.7" cy="867.4" rx="5.1" ry="12.7" transform="rotate(7 1009.7 867.4)" fill="#fff" stroke="#C00000" stroke-width="1.4"/>
<ellipse cx="1043.5" cy="849.3" rx="5.1" ry="12.7" transform="rotate(7 1043.5 849.3)" fill="#fff" stroke="#C00000" stroke-width="1.4"/>
<path d="M1089.6 771.5 L1268 771.5 A20.6 20.5 0 0 0 1288.6 751 L1288.6 706 L1276.3 706 L1307.8 673.4 L1339.4 706 L1326.9 706 L1326.9 751.5 A57 57 0 0 1 1269.9 808.5 L1089.6 808.5 Z" fill="#fff" stroke="#000" stroke-width="5.9" stroke-miterlimit="10"/>
<path d="M493.2 854.8 C482 839 449 801 449 770.4 A44.2 44.2 0 0 1 537.4 770.4 C537.4 801 504.4 839 493.2 854.8 Z M493.2 746.8 A19 19 0 1 0 493.2 784.8 A19 19 0 1 0 493.2 746.8 Z" fill="#000" fill-rule="evenodd"/>
<g font-family="'Liberation Serif', serif" font-weight="bold" style="font-kerning:none;font-variant-ligatures:none" opacity="0.999">
<text x="440.5" y="138.9" textLength="174" lengthAdjust="spacingAndGlyphs" font-size="28.8" fill="#000">Visual Images</text>
<text x="750" y="269.8" textLength="99.5" lengthAdjust="spacingAndGlyphs" font-size="28.6" fill="#44546A">VGG 16</text>
<text x="1107" y="276" textLength="194.6" lengthAdjust="spacingAndGlyphs" font-size="28.8" fill="#7F7F7F">Trace Learning</text>
<text x="995.3" y="473.8" textLength="150" lengthAdjust="spacingAndGlyphs" font-size="28.6" fill="#4F7B2A">Visual Units</text>
<text x="1335.6" y="672.7" textLength="158" lengthAdjust="spacingAndGlyphs" font-size="28.6" fill="#14A5EA">Spatial Units</text>
<text x="1098" y="800" textLength="192.8" lengthAdjust="spacingAndGlyphs" font-size="28.6" fill="#000">Trace Learning</text>
<text x="432.9" y="891.2" textLength="109.4" lengthAdjust="spacingAndGlyphs" font-size="28.6" fill="#000">Positions</text>
<text x="917.3" y="955.7" textLength="130.3" lengthAdjust="spacingAndGlyphs" font-size="28.6" fill="#C00000">Grid Units</text>
</g>
</svg>
</body>
</html>
